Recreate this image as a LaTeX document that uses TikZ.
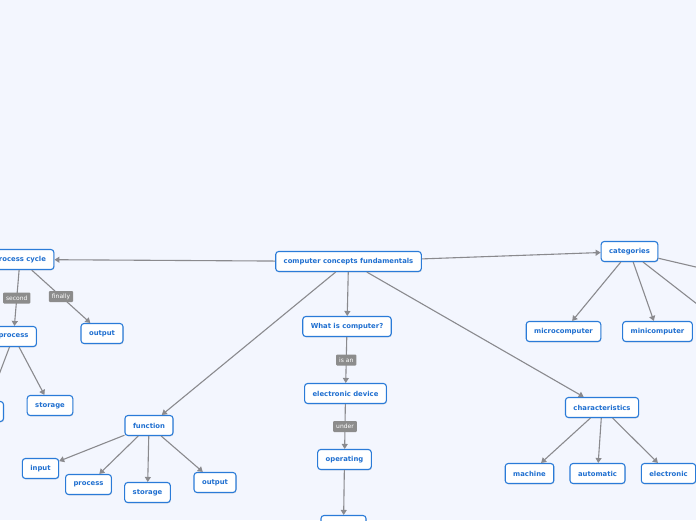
\documentclass[tikz,border=0pt]{standalone}
\usepackage{fontspec}
\newfontfamily\nodefont{DejaVu Sans}
\usetikzlibrary{arrows.meta,shadows}
\definecolor{bg}{HTML}{F3F6FE}
\definecolor{nodeblue}{HTML}{2A7BD8}
\definecolor{textblue}{HTML}{1F6FD0}
\definecolor{edgegray}{HTML}{8A8A8E}
\definecolor{labgray}{HTML}{8C8C8C}
\begin{document}
\begin{tikzpicture}[x=1pt,y=-1pt,
 concept/.style={draw=nodeblue, line width=1.1pt, fill=white, rounded corners=3pt,
   minimum height=20pt, inner xsep=8pt, inner ysep=0pt,
   font=\nodefont\bfseries\fontsize{6.85}{7.5}\selectfont, text=textblue,
   drop shadow={shadow xshift=0.6pt, shadow yshift=-0.8pt, opacity=0.25}},
 lab/.style={fill=labgray, text=white, font=\nodefont\fontsize{6}{6.5}\selectfont,
   inner xsep=3pt, inner ysep=0pt, minimum height=11pt, rounded corners=1pt},
 link/.style={draw=edgegray, line width=1.1pt, -{Triangle[width=6pt,length=5pt]}}
]
\fill[bg] (0,0) rectangle (696,520);
\useasboundingbox (0,0) rectangle (696,520);

% nodes
\node[concept] (main) at (348.5,261.5) {computer concepts fundamentals};
\node[concept] (pc) at (20,259.5) {process cycle};
\node[concept] (pproc) at (13.5,336.5) {process};
\node[concept] (pstor) at (50,405.5) {storage};
\node[concept, minimum width=37pt] (pin) at (-15,411.5) {};
\node[concept] (pout) at (102,333.5) {output};

\node[concept] (cat) at (629.5,251.5) {categories};
\node[concept] (micro) at (563.5,331.5) {microcomputer};
\node[concept] (mini) at (657.5,331.5) {minicomputer};
\coordinate (catA) at (760,282);
\coordinate (catB) at (760,353);

\node[concept] (what) at (347,326.5) {What is computer?};
\node[concept] (edev) at (345.5,393.5) {electronic device};
\node[concept] (oper) at (344.5,459.5) {operating};
\node[concept, minimum width=45pt] (sys) at (343.5,525.5) {};

\node[concept] (func) at (149,425.5) {function};
\node[concept] (fin) at (40.5,468.5) {input};
\node[concept] (fproc) at (88.5,484.5) {process};
\node[concept] (fstor) at (147.5,492.5) {storage};
\node[concept] (fout) at (215,482.5) {output};

\node[concept] (char) at (602,407.5) {characteristics};
\node[concept] (mach) at (529.5,473.5) {machine};
\node[concept] (auto) at (597.5,473.5) {automatic};
\node[concept] (elec) at (668.5,473.5) {electronic};

% connectors
\draw[link] (main) -- (pc);
\draw[link] (pc) -- node[lab] (l1) {second} (pproc);
\draw[link] (pc) -- node[lab] (l2) {finally} (pout);
\draw[link] (pproc) -- (pstor);
\draw[link] (pproc) -- (pin);

\draw[link] (main) -- (cat);
\draw[link] (cat) -- (micro);
\draw[link] (cat) -- (mini);
\draw[link] (cat) -- (catA);
\draw[link] (cat) -- (catB);

\draw[link] (main) -- (what);
\draw[link] (what) -- node[lab] (l3) {is an} (edev);
\draw[link] (edev) -- node[lab] (l4) {under} (oper);
\draw[link] (oper) -- (sys);

\draw[link] (main) -- (func);
\draw[link] (func) -- (fin);
\draw[link] (func) -- (fproc);
\draw[link] (func) -- (fstor);
\draw[link] (func) -- (fout);

\draw[link] (main) -- (char);
\draw[link] (char) -- (mach);
\draw[link] (char) -- (auto);
\draw[link] (char) -- (elec);
\end{tikzpicture}
\end{document}
